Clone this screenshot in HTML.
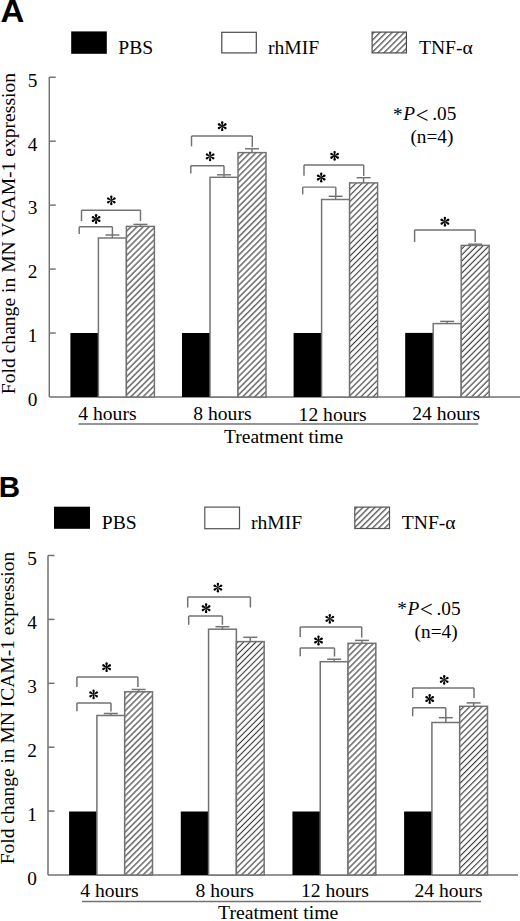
<!DOCTYPE html>
<html><head><meta charset="utf-8"><style>html,body{margin:0;padding:0;background:#fff;width:520px;height:921px;overflow:hidden}svg{display:block}text{font-family:"Liberation Serif",serif}</style></head>
<body><svg width="520" height="921" viewBox="0 0 520 921" fill="#000"><defs><pattern id="h1" patternUnits="userSpaceOnUse" width="4.2921" height="20" patternTransform="translate(372.10,32.10) rotate(45)"><line x1="1.556" y1="-1" x2="1.556" y2="21" stroke="#3c3c3c" stroke-width="1.15"/><line x1="-2.737" y1="-1" x2="-2.737" y2="21" stroke="#3c3c3c" stroke-width="1.15"/><line x1="5.848" y1="-1" x2="5.848" y2="21" stroke="#3c3c3c" stroke-width="1.15"/></pattern><pattern id="h2" patternUnits="userSpaceOnUse" width="4.2921" height="20" patternTransform="translate(126.40,226.40) rotate(45)"><line x1="3.465" y1="-1" x2="3.465" y2="21" stroke="#3c3c3c" stroke-width="1.15"/><line x1="-0.827" y1="-1" x2="-0.827" y2="21" stroke="#3c3c3c" stroke-width="1.15"/><line x1="7.757" y1="-1" x2="7.757" y2="21" stroke="#3c3c3c" stroke-width="1.15"/></pattern><pattern id="h3" patternUnits="userSpaceOnUse" width="4.2921" height="20" patternTransform="translate(238.00,152.60) rotate(45)"><line x1="4.243" y1="-1" x2="4.243" y2="21" stroke="#3c3c3c" stroke-width="1.15"/><line x1="-0.049" y1="-1" x2="-0.049" y2="21" stroke="#3c3c3c" stroke-width="1.15"/><line x1="8.535" y1="-1" x2="8.535" y2="21" stroke="#3c3c3c" stroke-width="1.15"/></pattern><pattern id="h4" patternUnits="userSpaceOnUse" width="4.2921" height="20" patternTransform="translate(349.60,182.90) rotate(45)"><line x1="0.445" y1="-1" x2="0.445" y2="21" stroke="#3c3c3c" stroke-width="1.15"/><line x1="-3.847" y1="-1" x2="-3.847" y2="21" stroke="#3c3c3c" stroke-width="1.15"/><line x1="4.738" y1="-1" x2="4.738" y2="21" stroke="#3c3c3c" stroke-width="1.15"/></pattern><pattern id="h5" patternUnits="userSpaceOnUse" width="4.2921" height="20" patternTransform="translate(461.20,245.40) rotate(45)"><line x1="2.828" y1="-1" x2="2.828" y2="21" stroke="#3c3c3c" stroke-width="1.15"/><line x1="-1.464" y1="-1" x2="-1.464" y2="21" stroke="#3c3c3c" stroke-width="1.15"/><line x1="7.121" y1="-1" x2="7.121" y2="21" stroke="#3c3c3c" stroke-width="1.15"/></pattern><pattern id="h6" patternUnits="userSpaceOnUse" width="4.2921" height="20" patternTransform="translate(354.80,507.10) rotate(45)"><line x1="1.626" y1="-1" x2="1.626" y2="21" stroke="#3c3c3c" stroke-width="1.15"/><line x1="-2.666" y1="-1" x2="-2.666" y2="21" stroke="#3c3c3c" stroke-width="1.15"/><line x1="5.918" y1="-1" x2="5.918" y2="21" stroke="#3c3c3c" stroke-width="1.15"/></pattern><pattern id="h7" patternUnits="userSpaceOnUse" width="4.2921" height="20" patternTransform="translate(124.70,691.80) rotate(45)"><line x1="0.799" y1="-1" x2="0.799" y2="21" stroke="#3c3c3c" stroke-width="1.15"/><line x1="-3.493" y1="-1" x2="-3.493" y2="21" stroke="#3c3c3c" stroke-width="1.15"/><line x1="5.091" y1="-1" x2="5.091" y2="21" stroke="#3c3c3c" stroke-width="1.15"/></pattern><pattern id="h8" patternUnits="userSpaceOnUse" width="4.2921" height="20" patternTransform="translate(236.37,641.60) rotate(45)"><line x1="1.245" y1="-1" x2="1.245" y2="21" stroke="#3c3c3c" stroke-width="1.15"/><line x1="-3.048" y1="-1" x2="-3.048" y2="21" stroke="#3c3c3c" stroke-width="1.15"/><line x1="5.537" y1="-1" x2="5.537" y2="21" stroke="#3c3c3c" stroke-width="1.15"/></pattern><pattern id="h9" patternUnits="userSpaceOnUse" width="4.2921" height="20" patternTransform="translate(348.04,643.30) rotate(45)"><line x1="0.841" y1="-1" x2="0.841" y2="21" stroke="#3c3c3c" stroke-width="1.15"/><line x1="-3.451" y1="-1" x2="-3.451" y2="21" stroke="#3c3c3c" stroke-width="1.15"/><line x1="5.134" y1="-1" x2="5.134" y2="21" stroke="#3c3c3c" stroke-width="1.15"/></pattern><pattern id="h10" patternUnits="userSpaceOnUse" width="4.2921" height="20" patternTransform="translate(459.71,706.30) rotate(45)"><line x1="3.104" y1="-1" x2="3.104" y2="21" stroke="#3c3c3c" stroke-width="1.15"/><line x1="-1.188" y1="-1" x2="-1.188" y2="21" stroke="#3c3c3c" stroke-width="1.15"/><line x1="7.396" y1="-1" x2="7.396" y2="21" stroke="#3c3c3c" stroke-width="1.15"/></pattern></defs><rect width="520" height="921" fill="#fff"/><rect x="71.20" y="31.40" width="35.60" height="22.40" fill="#000"/>
<rect x="221.80" y="32.30" width="34.50" height="20.60" fill="#fff" stroke="#4a4a4a" stroke-width="1.2"/>
<rect x="372.10" y="32.10" width="34.30" height="20.80" fill="#fff"/>
<rect x="372.10" y="32.10" width="34.30" height="20.80" fill="url(#h1)" stroke="#4a4a4a" stroke-width="1.2"/>
<text x="118.30" y="53.70" font-size="19.6" text-anchor="start" >PBS</text>
<text x="267.90" y="53.80" font-size="19.6" text-anchor="start" >rhMIF</text>
<text x="419.00" y="53.50" font-size="19.6" text-anchor="start" >TNF-&#945;</text>
<text x="0" y="0" font-size="30.5" transform="translate(0.6,21.7) scale(1.08,1)" style="font-family:Liberation Sans,sans-serif;font-weight:bold">A</text>
<line x1="49.30" y1="77.25" x2="49.30" y2="397.00" stroke="#727272" stroke-width="1.45"/>
<text x="37.50" y="406.30" font-size="19.3" text-anchor="end" >0</text>
<line x1="49.30" y1="333.05" x2="55.80" y2="333.05" stroke="#727272" stroke-width="1.45"/>
<text x="37.50" y="342.35" font-size="19.3" text-anchor="end" >1</text>
<line x1="49.30" y1="269.10" x2="55.80" y2="269.10" stroke="#727272" stroke-width="1.45"/>
<text x="37.50" y="278.40" font-size="19.3" text-anchor="end" >2</text>
<line x1="49.30" y1="205.15" x2="55.80" y2="205.15" stroke="#727272" stroke-width="1.45"/>
<text x="37.50" y="214.45" font-size="19.3" text-anchor="end" >3</text>
<line x1="49.30" y1="141.20" x2="55.80" y2="141.20" stroke="#727272" stroke-width="1.45"/>
<text x="37.50" y="150.50" font-size="19.3" text-anchor="end" >4</text>
<line x1="49.30" y1="77.25" x2="55.80" y2="77.25" stroke="#727272" stroke-width="1.45"/>
<text x="37.50" y="86.55" font-size="19.3" text-anchor="end" >5</text>
<line x1="49.30" y1="397.00" x2="520.00" y2="397.00" stroke="#727272" stroke-width="1.45"/>
<rect x="70.40" y="333.00" width="28.00" height="64.00" fill="#000"/>
<rect x="98.40" y="238.00" width="28.00" height="159.00" fill="#fff" stroke="#727272" stroke-width="1.45"/>
<rect x="126.40" y="226.40" width="28.00" height="170.60" fill="#fff"/>
<rect x="126.40" y="226.40" width="28.00" height="170.60" fill="url(#h2)" stroke="#727272" stroke-width="1.45"/>
<line x1="112.40" y1="238.00" x2="112.40" y2="235.00" stroke="#727272" stroke-width="1.45"/>
<line x1="105.40" y1="235.00" x2="119.40" y2="235.00" stroke="#727272" stroke-width="1.45"/>
<line x1="140.40" y1="226.40" x2="140.40" y2="224.40" stroke="#727272" stroke-width="1.45"/>
<line x1="133.40" y1="224.40" x2="147.40" y2="224.40" stroke="#727272" stroke-width="1.45"/>
<rect x="182.00" y="333.00" width="28.00" height="64.00" fill="#000"/>
<rect x="210.00" y="177.30" width="28.00" height="219.70" fill="#fff" stroke="#727272" stroke-width="1.45"/>
<rect x="238.00" y="152.60" width="28.00" height="244.40" fill="#fff"/>
<rect x="238.00" y="152.60" width="28.00" height="244.40" fill="url(#h3)" stroke="#727272" stroke-width="1.45"/>
<line x1="224.00" y1="177.30" x2="224.00" y2="174.80" stroke="#727272" stroke-width="1.45"/>
<line x1="217.00" y1="174.80" x2="231.00" y2="174.80" stroke="#727272" stroke-width="1.45"/>
<line x1="252.00" y1="152.60" x2="252.00" y2="148.80" stroke="#727272" stroke-width="1.45"/>
<line x1="245.00" y1="148.80" x2="259.00" y2="148.80" stroke="#727272" stroke-width="1.45"/>
<rect x="293.60" y="333.00" width="28.00" height="64.00" fill="#000"/>
<rect x="321.60" y="199.50" width="28.00" height="197.50" fill="#fff" stroke="#727272" stroke-width="1.45"/>
<rect x="349.60" y="182.90" width="28.00" height="214.10" fill="#fff"/>
<rect x="349.60" y="182.90" width="28.00" height="214.10" fill="url(#h4)" stroke="#727272" stroke-width="1.45"/>
<line x1="335.60" y1="199.50" x2="335.60" y2="196.30" stroke="#727272" stroke-width="1.45"/>
<line x1="328.60" y1="196.30" x2="342.60" y2="196.30" stroke="#727272" stroke-width="1.45"/>
<line x1="363.60" y1="182.90" x2="363.60" y2="177.70" stroke="#727272" stroke-width="1.45"/>
<line x1="356.60" y1="177.70" x2="370.60" y2="177.70" stroke="#727272" stroke-width="1.45"/>
<rect x="405.20" y="332.90" width="28.00" height="64.10" fill="#000"/>
<rect x="433.20" y="323.60" width="28.00" height="73.40" fill="#fff" stroke="#727272" stroke-width="1.45"/>
<rect x="461.20" y="245.40" width="28.00" height="151.60" fill="#fff"/>
<rect x="461.20" y="245.40" width="28.00" height="151.60" fill="url(#h5)" stroke="#727272" stroke-width="1.45"/>
<line x1="447.20" y1="323.60" x2="447.20" y2="321.40" stroke="#727272" stroke-width="1.45"/>
<line x1="440.20" y1="321.40" x2="454.20" y2="321.40" stroke="#727272" stroke-width="1.45"/>
<line x1="475.20" y1="245.40" x2="475.20" y2="244.20" stroke="#727272" stroke-width="1.45"/>
<line x1="468.20" y1="244.20" x2="482.20" y2="244.20" stroke="#727272" stroke-width="1.45"/>
<line x1="79.20" y1="226.80" x2="112.40" y2="226.80" stroke="#727272" stroke-width="1.45"/>
<line x1="79.20" y1="226.80" x2="79.20" y2="234.00" stroke="#727272" stroke-width="1.45"/>
<line x1="112.40" y1="226.80" x2="112.40" y2="235.00" stroke="#727272" stroke-width="1.45"/>
<line x1="81.50" y1="210.20" x2="140.50" y2="210.20" stroke="#727272" stroke-width="1.45"/>
<line x1="81.50" y1="210.20" x2="81.50" y2="221.00" stroke="#727272" stroke-width="1.45"/>
<line x1="140.50" y1="210.20" x2="140.50" y2="221.00" stroke="#727272" stroke-width="1.45"/>
<line x1="190.80" y1="165.80" x2="224.00" y2="165.80" stroke="#727272" stroke-width="1.45"/>
<line x1="190.80" y1="165.80" x2="190.80" y2="173.50" stroke="#727272" stroke-width="1.45"/>
<line x1="224.00" y1="165.80" x2="224.00" y2="174.80" stroke="#727272" stroke-width="1.45"/>
<line x1="191.50" y1="136.00" x2="252.30" y2="136.00" stroke="#727272" stroke-width="1.45"/>
<line x1="191.50" y1="136.00" x2="191.50" y2="146.30" stroke="#727272" stroke-width="1.45"/>
<line x1="252.30" y1="136.00" x2="252.30" y2="147.20" stroke="#727272" stroke-width="1.45"/>
<line x1="302.70" y1="187.10" x2="335.80" y2="187.10" stroke="#727272" stroke-width="1.45"/>
<line x1="302.70" y1="187.10" x2="302.70" y2="194.40" stroke="#727272" stroke-width="1.45"/>
<line x1="335.80" y1="187.10" x2="335.80" y2="196.30" stroke="#727272" stroke-width="1.45"/>
<line x1="304.00" y1="165.00" x2="363.70" y2="165.00" stroke="#727272" stroke-width="1.45"/>
<line x1="304.00" y1="165.00" x2="304.00" y2="175.70" stroke="#727272" stroke-width="1.45"/>
<line x1="363.70" y1="165.00" x2="363.70" y2="176.00" stroke="#727272" stroke-width="1.45"/>
<line x1="414.60" y1="229.90" x2="475.20" y2="229.90" stroke="#727272" stroke-width="1.45"/>
<line x1="414.60" y1="229.90" x2="414.60" y2="242.00" stroke="#727272" stroke-width="1.45"/>
<line x1="475.20" y1="229.90" x2="475.20" y2="242.00" stroke="#727272" stroke-width="1.45"/>
<g transform="translate(96.1,219)" fill="#000"><path d="M-0.25 0 L-1.2 -3.7 A1.2 1.2 0 0 1 1.2 -3.7 L0.25 0 Z" transform="rotate(0)"/><path d="M-0.25 0 L-1.2 -3.7 A1.2 1.2 0 0 1 1.2 -3.7 L0.25 0 Z" transform="rotate(60)"/><path d="M-0.25 0 L-1.2 -3.7 A1.2 1.2 0 0 1 1.2 -3.7 L0.25 0 Z" transform="rotate(120)"/><path d="M-0.25 0 L-1.2 -3.7 A1.2 1.2 0 0 1 1.2 -3.7 L0.25 0 Z" transform="rotate(180)"/><path d="M-0.25 0 L-1.2 -3.7 A1.2 1.2 0 0 1 1.2 -3.7 L0.25 0 Z" transform="rotate(240)"/><path d="M-0.25 0 L-1.2 -3.7 A1.2 1.2 0 0 1 1.2 -3.7 L0.25 0 Z" transform="rotate(300)"/></g>
<g transform="translate(111.3,200.4)" fill="#000"><path d="M-0.25 0 L-1.2 -3.7 A1.2 1.2 0 0 1 1.2 -3.7 L0.25 0 Z" transform="rotate(0)"/><path d="M-0.25 0 L-1.2 -3.7 A1.2 1.2 0 0 1 1.2 -3.7 L0.25 0 Z" transform="rotate(60)"/><path d="M-0.25 0 L-1.2 -3.7 A1.2 1.2 0 0 1 1.2 -3.7 L0.25 0 Z" transform="rotate(120)"/><path d="M-0.25 0 L-1.2 -3.7 A1.2 1.2 0 0 1 1.2 -3.7 L0.25 0 Z" transform="rotate(180)"/><path d="M-0.25 0 L-1.2 -3.7 A1.2 1.2 0 0 1 1.2 -3.7 L0.25 0 Z" transform="rotate(240)"/><path d="M-0.25 0 L-1.2 -3.7 A1.2 1.2 0 0 1 1.2 -3.7 L0.25 0 Z" transform="rotate(300)"/></g>
<g transform="translate(210.1,156.4)" fill="#000"><path d="M-0.25 0 L-1.2 -3.7 A1.2 1.2 0 0 1 1.2 -3.7 L0.25 0 Z" transform="rotate(0)"/><path d="M-0.25 0 L-1.2 -3.7 A1.2 1.2 0 0 1 1.2 -3.7 L0.25 0 Z" transform="rotate(60)"/><path d="M-0.25 0 L-1.2 -3.7 A1.2 1.2 0 0 1 1.2 -3.7 L0.25 0 Z" transform="rotate(120)"/><path d="M-0.25 0 L-1.2 -3.7 A1.2 1.2 0 0 1 1.2 -3.7 L0.25 0 Z" transform="rotate(180)"/><path d="M-0.25 0 L-1.2 -3.7 A1.2 1.2 0 0 1 1.2 -3.7 L0.25 0 Z" transform="rotate(240)"/><path d="M-0.25 0 L-1.2 -3.7 A1.2 1.2 0 0 1 1.2 -3.7 L0.25 0 Z" transform="rotate(300)"/></g>
<g transform="translate(222.2,126.2)" fill="#000"><path d="M-0.25 0 L-1.2 -3.7 A1.2 1.2 0 0 1 1.2 -3.7 L0.25 0 Z" transform="rotate(0)"/><path d="M-0.25 0 L-1.2 -3.7 A1.2 1.2 0 0 1 1.2 -3.7 L0.25 0 Z" transform="rotate(60)"/><path d="M-0.25 0 L-1.2 -3.7 A1.2 1.2 0 0 1 1.2 -3.7 L0.25 0 Z" transform="rotate(120)"/><path d="M-0.25 0 L-1.2 -3.7 A1.2 1.2 0 0 1 1.2 -3.7 L0.25 0 Z" transform="rotate(180)"/><path d="M-0.25 0 L-1.2 -3.7 A1.2 1.2 0 0 1 1.2 -3.7 L0.25 0 Z" transform="rotate(240)"/><path d="M-0.25 0 L-1.2 -3.7 A1.2 1.2 0 0 1 1.2 -3.7 L0.25 0 Z" transform="rotate(300)"/></g>
<g transform="translate(321.2,177.5)" fill="#000"><path d="M-0.25 0 L-1.2 -3.7 A1.2 1.2 0 0 1 1.2 -3.7 L0.25 0 Z" transform="rotate(0)"/><path d="M-0.25 0 L-1.2 -3.7 A1.2 1.2 0 0 1 1.2 -3.7 L0.25 0 Z" transform="rotate(60)"/><path d="M-0.25 0 L-1.2 -3.7 A1.2 1.2 0 0 1 1.2 -3.7 L0.25 0 Z" transform="rotate(120)"/><path d="M-0.25 0 L-1.2 -3.7 A1.2 1.2 0 0 1 1.2 -3.7 L0.25 0 Z" transform="rotate(180)"/><path d="M-0.25 0 L-1.2 -3.7 A1.2 1.2 0 0 1 1.2 -3.7 L0.25 0 Z" transform="rotate(240)"/><path d="M-0.25 0 L-1.2 -3.7 A1.2 1.2 0 0 1 1.2 -3.7 L0.25 0 Z" transform="rotate(300)"/></g>
<g transform="translate(334.6,155.8)" fill="#000"><path d="M-0.25 0 L-1.2 -3.7 A1.2 1.2 0 0 1 1.2 -3.7 L0.25 0 Z" transform="rotate(0)"/><path d="M-0.25 0 L-1.2 -3.7 A1.2 1.2 0 0 1 1.2 -3.7 L0.25 0 Z" transform="rotate(60)"/><path d="M-0.25 0 L-1.2 -3.7 A1.2 1.2 0 0 1 1.2 -3.7 L0.25 0 Z" transform="rotate(120)"/><path d="M-0.25 0 L-1.2 -3.7 A1.2 1.2 0 0 1 1.2 -3.7 L0.25 0 Z" transform="rotate(180)"/><path d="M-0.25 0 L-1.2 -3.7 A1.2 1.2 0 0 1 1.2 -3.7 L0.25 0 Z" transform="rotate(240)"/><path d="M-0.25 0 L-1.2 -3.7 A1.2 1.2 0 0 1 1.2 -3.7 L0.25 0 Z" transform="rotate(300)"/></g>
<g transform="translate(444.9,221.7)" fill="#000"><path d="M-0.25 0 L-1.2 -3.7 A1.2 1.2 0 0 1 1.2 -3.7 L0.25 0 Z" transform="rotate(0)"/><path d="M-0.25 0 L-1.2 -3.7 A1.2 1.2 0 0 1 1.2 -3.7 L0.25 0 Z" transform="rotate(60)"/><path d="M-0.25 0 L-1.2 -3.7 A1.2 1.2 0 0 1 1.2 -3.7 L0.25 0 Z" transform="rotate(120)"/><path d="M-0.25 0 L-1.2 -3.7 A1.2 1.2 0 0 1 1.2 -3.7 L0.25 0 Z" transform="rotate(180)"/><path d="M-0.25 0 L-1.2 -3.7 A1.2 1.2 0 0 1 1.2 -3.7 L0.25 0 Z" transform="rotate(240)"/><path d="M-0.25 0 L-1.2 -3.7 A1.2 1.2 0 0 1 1.2 -3.7 L0.25 0 Z" transform="rotate(300)"/></g>
<text x="78.30" y="420.00" font-size="19.6" text-anchor="start" >4 hours</text>
<text x="193.30" y="420.30" font-size="19.6" text-anchor="start" >8 hours</text>
<text x="298.60" y="420.80" font-size="19.6" text-anchor="start" >12 hours</text>
<text x="412.20" y="419.80" font-size="19.6" text-anchor="start" >24 hours</text>
<line x1="78.50" y1="424.00" x2="478.30" y2="424.00" stroke="#727272" stroke-width="1.45"/>
<text x="224.00" y="442.70" font-size="19.55" text-anchor="start" >Treatment time</text>
<text x="0" y="0" font-size="19.6" text-anchor="start" transform="translate(15.3,394.2) rotate(-90)">Fold change in MN VCAM-1 expression</text>
<text x="393.00" y="121.10" font-size="19.3" text-anchor="start" >*</text>
<text x="403.20" y="120.30" font-size="19.3" text-anchor="start" font-style="italic" style="font-style:italic">P</text>
<text x="415.60" y="122.60" font-size="23.16" text-anchor="start" >&lt;</text>
<text x="432.30" y="120.30" font-size="19.3" text-anchor="start" >.05</text>
<text x="410.40" y="143.00" font-size="19.3" text-anchor="start" >(n=4)</text>
<rect x="54.00" y="506.70" width="36.00" height="22.10" fill="#000"/>
<rect x="204.80" y="507.10" width="34.70" height="21.60" fill="#fff" stroke="#555" stroke-width="1.2"/>
<rect x="354.80" y="507.10" width="34.70" height="21.40" fill="#fff"/>
<rect x="354.80" y="507.10" width="34.70" height="21.40" fill="url(#h6)" stroke="#555" stroke-width="1.2"/>
<text x="101.80" y="528.70" font-size="19.6" text-anchor="start" >PBS</text>
<text x="250.90" y="528.90" font-size="19.6" text-anchor="start" >rhMIF</text>
<text x="401.80" y="529.10" font-size="19.6" text-anchor="start" >TNF-&#945;</text>
<text x="0" y="0" font-size="29.5" transform="translate(-1.2,496.8) scale(1.0,1)" style="font-family:Liberation Sans,sans-serif;font-weight:bold">B</text>
<line x1="48.00" y1="555.50" x2="48.00" y2="875.00" stroke="#727272" stroke-width="1.5"/>
<text x="37.00" y="884.50" font-size="19.3" text-anchor="end" >0</text>
<line x1="48.00" y1="811.10" x2="54.50" y2="811.10" stroke="#727272" stroke-width="1.5"/>
<text x="37.00" y="820.60" font-size="19.3" text-anchor="end" >1</text>
<line x1="48.00" y1="747.20" x2="54.50" y2="747.20" stroke="#727272" stroke-width="1.5"/>
<text x="37.00" y="756.70" font-size="19.3" text-anchor="end" >2</text>
<line x1="48.00" y1="683.30" x2="54.50" y2="683.30" stroke="#727272" stroke-width="1.5"/>
<text x="37.00" y="692.80" font-size="19.3" text-anchor="end" >3</text>
<line x1="48.00" y1="619.40" x2="54.50" y2="619.40" stroke="#727272" stroke-width="1.5"/>
<text x="37.00" y="628.90" font-size="19.3" text-anchor="end" >4</text>
<line x1="48.00" y1="555.50" x2="54.50" y2="555.50" stroke="#727272" stroke-width="1.5"/>
<text x="37.00" y="565.00" font-size="19.3" text-anchor="end" >5</text>
<line x1="48.00" y1="875.00" x2="518.00" y2="875.00" stroke="#727272" stroke-width="1.5"/>
<rect x="69.10" y="811.50" width="27.80" height="63.50" fill="#000"/>
<rect x="96.90" y="715.50" width="27.80" height="159.50" fill="#fff" stroke="#727272" stroke-width="1.5"/>
<rect x="124.70" y="691.80" width="27.80" height="183.20" fill="#fff"/>
<rect x="124.70" y="691.80" width="27.80" height="183.20" fill="url(#h7)" stroke="#727272" stroke-width="1.5"/>
<line x1="110.80" y1="715.50" x2="110.80" y2="713.50" stroke="#727272" stroke-width="1.5"/>
<line x1="103.80" y1="713.50" x2="117.80" y2="713.50" stroke="#727272" stroke-width="1.5"/>
<line x1="138.60" y1="691.80" x2="138.60" y2="689.50" stroke="#727272" stroke-width="1.5"/>
<line x1="131.60" y1="689.50" x2="145.60" y2="689.50" stroke="#727272" stroke-width="1.5"/>
<rect x="180.77" y="811.50" width="27.80" height="63.50" fill="#000"/>
<rect x="208.57" y="629.20" width="27.80" height="245.80" fill="#fff" stroke="#727272" stroke-width="1.5"/>
<rect x="236.37" y="641.60" width="27.80" height="233.40" fill="#fff"/>
<rect x="236.37" y="641.60" width="27.80" height="233.40" fill="url(#h8)" stroke="#727272" stroke-width="1.5"/>
<line x1="222.47" y1="629.20" x2="222.47" y2="626.70" stroke="#727272" stroke-width="1.5"/>
<line x1="215.47" y1="626.70" x2="229.47" y2="626.70" stroke="#727272" stroke-width="1.5"/>
<line x1="250.27" y1="641.60" x2="250.27" y2="637.30" stroke="#727272" stroke-width="1.5"/>
<line x1="243.27" y1="637.30" x2="257.27" y2="637.30" stroke="#727272" stroke-width="1.5"/>
<rect x="292.44" y="811.50" width="27.80" height="63.50" fill="#000"/>
<rect x="320.24" y="661.70" width="27.80" height="213.30" fill="#fff" stroke="#727272" stroke-width="1.5"/>
<rect x="348.04" y="643.30" width="27.80" height="231.70" fill="#fff"/>
<rect x="348.04" y="643.30" width="27.80" height="231.70" fill="url(#h9)" stroke="#727272" stroke-width="1.5"/>
<line x1="334.14" y1="661.70" x2="334.14" y2="659.20" stroke="#727272" stroke-width="1.5"/>
<line x1="327.14" y1="659.20" x2="341.14" y2="659.20" stroke="#727272" stroke-width="1.5"/>
<line x1="361.94" y1="643.30" x2="361.94" y2="640.40" stroke="#727272" stroke-width="1.5"/>
<line x1="354.94" y1="640.40" x2="368.94" y2="640.40" stroke="#727272" stroke-width="1.5"/>
<rect x="404.11" y="811.50" width="27.80" height="63.50" fill="#000"/>
<rect x="431.91" y="722.50" width="27.80" height="152.50" fill="#fff" stroke="#727272" stroke-width="1.5"/>
<rect x="459.71" y="706.30" width="27.80" height="168.70" fill="#fff"/>
<rect x="459.71" y="706.30" width="27.80" height="168.70" fill="url(#h10)" stroke="#727272" stroke-width="1.5"/>
<line x1="445.81" y1="722.50" x2="445.81" y2="717.70" stroke="#727272" stroke-width="1.5"/>
<line x1="438.81" y1="717.70" x2="452.81" y2="717.70" stroke="#727272" stroke-width="1.5"/>
<line x1="473.61" y1="706.30" x2="473.61" y2="702.90" stroke="#727272" stroke-width="1.5"/>
<line x1="466.61" y1="702.90" x2="480.61" y2="702.90" stroke="#727272" stroke-width="1.5"/>
<line x1="76.90" y1="703.10" x2="111.00" y2="703.10" stroke="#727272" stroke-width="1.5"/>
<line x1="76.90" y1="703.10" x2="76.90" y2="711.20" stroke="#727272" stroke-width="1.5"/>
<line x1="111.00" y1="703.10" x2="111.00" y2="711.50" stroke="#727272" stroke-width="1.5"/>
<line x1="76.90" y1="676.90" x2="137.90" y2="676.90" stroke="#727272" stroke-width="1.5"/>
<line x1="76.90" y1="676.90" x2="76.90" y2="687.10" stroke="#727272" stroke-width="1.5"/>
<line x1="137.90" y1="676.90" x2="137.90" y2="687.10" stroke="#727272" stroke-width="1.5"/>
<line x1="188.70" y1="616.10" x2="222.40" y2="616.10" stroke="#727272" stroke-width="1.5"/>
<line x1="188.70" y1="616.10" x2="188.70" y2="624.80" stroke="#727272" stroke-width="1.5"/>
<line x1="222.40" y1="616.10" x2="222.40" y2="624.80" stroke="#727272" stroke-width="1.5"/>
<line x1="187.70" y1="596.90" x2="250.40" y2="596.90" stroke="#727272" stroke-width="1.5"/>
<line x1="187.70" y1="596.90" x2="187.70" y2="607.50" stroke="#727272" stroke-width="1.5"/>
<line x1="250.40" y1="596.90" x2="250.40" y2="607.50" stroke="#727272" stroke-width="1.5"/>
<line x1="300.20" y1="648.10" x2="334.50" y2="648.10" stroke="#727272" stroke-width="1.5"/>
<line x1="300.20" y1="648.10" x2="300.20" y2="656.20" stroke="#727272" stroke-width="1.5"/>
<line x1="334.50" y1="648.10" x2="334.50" y2="656.50" stroke="#727272" stroke-width="1.5"/>
<line x1="300.20" y1="626.90" x2="361.70" y2="626.90" stroke="#727272" stroke-width="1.5"/>
<line x1="300.20" y1="626.90" x2="300.20" y2="637.10" stroke="#727272" stroke-width="1.5"/>
<line x1="361.70" y1="626.90" x2="361.70" y2="637.60" stroke="#727272" stroke-width="1.5"/>
<line x1="412.70" y1="707.70" x2="445.80" y2="707.70" stroke="#727272" stroke-width="1.5"/>
<line x1="412.70" y1="707.70" x2="412.70" y2="716.30" stroke="#727272" stroke-width="1.5"/>
<line x1="445.80" y1="707.70" x2="445.80" y2="717.70" stroke="#727272" stroke-width="1.5"/>
<line x1="412.70" y1="687.90" x2="474.00" y2="687.90" stroke="#727272" stroke-width="1.5"/>
<line x1="412.70" y1="687.90" x2="412.70" y2="698.00" stroke="#727272" stroke-width="1.5"/>
<line x1="474.00" y1="687.90" x2="474.00" y2="698.00" stroke="#727272" stroke-width="1.5"/>
<g transform="translate(93.6,694.4)" fill="#000"><path d="M-0.25 0 L-1.2 -3.7 A1.2 1.2 0 0 1 1.2 -3.7 L0.25 0 Z" transform="rotate(0)"/><path d="M-0.25 0 L-1.2 -3.7 A1.2 1.2 0 0 1 1.2 -3.7 L0.25 0 Z" transform="rotate(60)"/><path d="M-0.25 0 L-1.2 -3.7 A1.2 1.2 0 0 1 1.2 -3.7 L0.25 0 Z" transform="rotate(120)"/><path d="M-0.25 0 L-1.2 -3.7 A1.2 1.2 0 0 1 1.2 -3.7 L0.25 0 Z" transform="rotate(180)"/><path d="M-0.25 0 L-1.2 -3.7 A1.2 1.2 0 0 1 1.2 -3.7 L0.25 0 Z" transform="rotate(240)"/><path d="M-0.25 0 L-1.2 -3.7 A1.2 1.2 0 0 1 1.2 -3.7 L0.25 0 Z" transform="rotate(300)"/></g>
<g transform="translate(106.6,667.2)" fill="#000"><path d="M-0.25 0 L-1.2 -3.7 A1.2 1.2 0 0 1 1.2 -3.7 L0.25 0 Z" transform="rotate(0)"/><path d="M-0.25 0 L-1.2 -3.7 A1.2 1.2 0 0 1 1.2 -3.7 L0.25 0 Z" transform="rotate(60)"/><path d="M-0.25 0 L-1.2 -3.7 A1.2 1.2 0 0 1 1.2 -3.7 L0.25 0 Z" transform="rotate(120)"/><path d="M-0.25 0 L-1.2 -3.7 A1.2 1.2 0 0 1 1.2 -3.7 L0.25 0 Z" transform="rotate(180)"/><path d="M-0.25 0 L-1.2 -3.7 A1.2 1.2 0 0 1 1.2 -3.7 L0.25 0 Z" transform="rotate(240)"/><path d="M-0.25 0 L-1.2 -3.7 A1.2 1.2 0 0 1 1.2 -3.7 L0.25 0 Z" transform="rotate(300)"/></g>
<g transform="translate(206.1,608.2)" fill="#000"><path d="M-0.25 0 L-1.2 -3.7 A1.2 1.2 0 0 1 1.2 -3.7 L0.25 0 Z" transform="rotate(0)"/><path d="M-0.25 0 L-1.2 -3.7 A1.2 1.2 0 0 1 1.2 -3.7 L0.25 0 Z" transform="rotate(60)"/><path d="M-0.25 0 L-1.2 -3.7 A1.2 1.2 0 0 1 1.2 -3.7 L0.25 0 Z" transform="rotate(120)"/><path d="M-0.25 0 L-1.2 -3.7 A1.2 1.2 0 0 1 1.2 -3.7 L0.25 0 Z" transform="rotate(180)"/><path d="M-0.25 0 L-1.2 -3.7 A1.2 1.2 0 0 1 1.2 -3.7 L0.25 0 Z" transform="rotate(240)"/><path d="M-0.25 0 L-1.2 -3.7 A1.2 1.2 0 0 1 1.2 -3.7 L0.25 0 Z" transform="rotate(300)"/></g>
<g transform="translate(217.9,587.6)" fill="#000"><path d="M-0.25 0 L-1.2 -3.7 A1.2 1.2 0 0 1 1.2 -3.7 L0.25 0 Z" transform="rotate(0)"/><path d="M-0.25 0 L-1.2 -3.7 A1.2 1.2 0 0 1 1.2 -3.7 L0.25 0 Z" transform="rotate(60)"/><path d="M-0.25 0 L-1.2 -3.7 A1.2 1.2 0 0 1 1.2 -3.7 L0.25 0 Z" transform="rotate(120)"/><path d="M-0.25 0 L-1.2 -3.7 A1.2 1.2 0 0 1 1.2 -3.7 L0.25 0 Z" transform="rotate(180)"/><path d="M-0.25 0 L-1.2 -3.7 A1.2 1.2 0 0 1 1.2 -3.7 L0.25 0 Z" transform="rotate(240)"/><path d="M-0.25 0 L-1.2 -3.7 A1.2 1.2 0 0 1 1.2 -3.7 L0.25 0 Z" transform="rotate(300)"/></g>
<g transform="translate(318.5,640.5)" fill="#000"><path d="M-0.25 0 L-1.2 -3.7 A1.2 1.2 0 0 1 1.2 -3.7 L0.25 0 Z" transform="rotate(0)"/><path d="M-0.25 0 L-1.2 -3.7 A1.2 1.2 0 0 1 1.2 -3.7 L0.25 0 Z" transform="rotate(60)"/><path d="M-0.25 0 L-1.2 -3.7 A1.2 1.2 0 0 1 1.2 -3.7 L0.25 0 Z" transform="rotate(120)"/><path d="M-0.25 0 L-1.2 -3.7 A1.2 1.2 0 0 1 1.2 -3.7 L0.25 0 Z" transform="rotate(180)"/><path d="M-0.25 0 L-1.2 -3.7 A1.2 1.2 0 0 1 1.2 -3.7 L0.25 0 Z" transform="rotate(240)"/><path d="M-0.25 0 L-1.2 -3.7 A1.2 1.2 0 0 1 1.2 -3.7 L0.25 0 Z" transform="rotate(300)"/></g>
<g transform="translate(329.8,618.9)" fill="#000"><path d="M-0.25 0 L-1.2 -3.7 A1.2 1.2 0 0 1 1.2 -3.7 L0.25 0 Z" transform="rotate(0)"/><path d="M-0.25 0 L-1.2 -3.7 A1.2 1.2 0 0 1 1.2 -3.7 L0.25 0 Z" transform="rotate(60)"/><path d="M-0.25 0 L-1.2 -3.7 A1.2 1.2 0 0 1 1.2 -3.7 L0.25 0 Z" transform="rotate(120)"/><path d="M-0.25 0 L-1.2 -3.7 A1.2 1.2 0 0 1 1.2 -3.7 L0.25 0 Z" transform="rotate(180)"/><path d="M-0.25 0 L-1.2 -3.7 A1.2 1.2 0 0 1 1.2 -3.7 L0.25 0 Z" transform="rotate(240)"/><path d="M-0.25 0 L-1.2 -3.7 A1.2 1.2 0 0 1 1.2 -3.7 L0.25 0 Z" transform="rotate(300)"/></g>
<g transform="translate(429.7,699.0)" fill="#000"><path d="M-0.25 0 L-1.2 -3.7 A1.2 1.2 0 0 1 1.2 -3.7 L0.25 0 Z" transform="rotate(0)"/><path d="M-0.25 0 L-1.2 -3.7 A1.2 1.2 0 0 1 1.2 -3.7 L0.25 0 Z" transform="rotate(60)"/><path d="M-0.25 0 L-1.2 -3.7 A1.2 1.2 0 0 1 1.2 -3.7 L0.25 0 Z" transform="rotate(120)"/><path d="M-0.25 0 L-1.2 -3.7 A1.2 1.2 0 0 1 1.2 -3.7 L0.25 0 Z" transform="rotate(180)"/><path d="M-0.25 0 L-1.2 -3.7 A1.2 1.2 0 0 1 1.2 -3.7 L0.25 0 Z" transform="rotate(240)"/><path d="M-0.25 0 L-1.2 -3.7 A1.2 1.2 0 0 1 1.2 -3.7 L0.25 0 Z" transform="rotate(300)"/></g>
<g transform="translate(444.2,679.9)" fill="#000"><path d="M-0.25 0 L-1.2 -3.7 A1.2 1.2 0 0 1 1.2 -3.7 L0.25 0 Z" transform="rotate(0)"/><path d="M-0.25 0 L-1.2 -3.7 A1.2 1.2 0 0 1 1.2 -3.7 L0.25 0 Z" transform="rotate(60)"/><path d="M-0.25 0 L-1.2 -3.7 A1.2 1.2 0 0 1 1.2 -3.7 L0.25 0 Z" transform="rotate(120)"/><path d="M-0.25 0 L-1.2 -3.7 A1.2 1.2 0 0 1 1.2 -3.7 L0.25 0 Z" transform="rotate(180)"/><path d="M-0.25 0 L-1.2 -3.7 A1.2 1.2 0 0 1 1.2 -3.7 L0.25 0 Z" transform="rotate(240)"/><path d="M-0.25 0 L-1.2 -3.7 A1.2 1.2 0 0 1 1.2 -3.7 L0.25 0 Z" transform="rotate(300)"/></g>
<text x="80.30" y="897.20" font-size="19.6" text-anchor="start" >4 hours</text>
<text x="195.60" y="897.40" font-size="19.6" text-anchor="start" >8 hours</text>
<text x="300.90" y="897.40" font-size="19.6" text-anchor="start" >12 hours</text>
<text x="414.50" y="897.00" font-size="19.6" text-anchor="start" >24 hours</text>
<line x1="82.00" y1="901.60" x2="481.00" y2="901.60" stroke="#727272" stroke-width="1.5"/>
<text x="218.10" y="919.20" font-size="19.7" text-anchor="start" >Treatment time</text>
<text x="0" y="0" font-size="19.5" text-anchor="start" transform="translate(13.9,864.3) rotate(-90)">Fold change in MN ICAM-1 expression</text>
<text x="397.20" y="615.30" font-size="19.3" text-anchor="start" >*</text>
<text x="407.40" y="614.50" font-size="19.3" text-anchor="start" font-style="italic" style="font-style:italic">P</text>
<text x="419.80" y="616.80" font-size="23.16" text-anchor="start" >&lt;</text>
<text x="436.50" y="614.50" font-size="19.3" text-anchor="start" >.05</text>
<text x="414.60" y="637.50" font-size="19.3" text-anchor="start" >(n=4)</text></svg></body></html>
